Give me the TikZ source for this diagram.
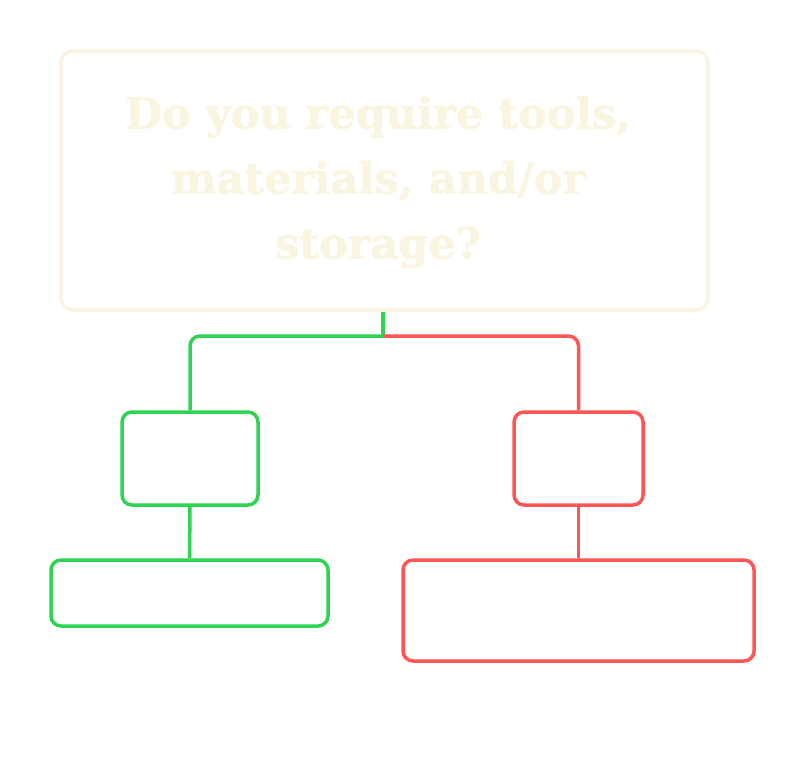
\documentclass[tikz,border=0pt]{standalone}
\usepackage{fontspec}
\newfontfamily\qfont[BoldFeatures={FakeBold=1.2}]{DejaVu Serif}
\usetikzlibrary{positioning}
\definecolor{cream}{HTML}{F9F5E0}
\definecolor{yesgreen}{HTML}{2ED352}
\definecolor{nored}{HTML}{FF5555}
\tikzset{
  qbox/.style={draw=cream, line width=3.5pt, rounded corners=12pt, align=center, inner sep=0pt},
  yesbox/.style={draw=yesgreen, line width=3.5pt, rounded corners=10pt, inner sep=0pt},
  nobox/.style={draw=nored, line width=3.5pt, rounded corners=10pt, inner sep=0pt},
  yesline/.style={draw=yesgreen, line width=3.5pt, rounded corners=10pt},
  noline/.style={draw=nored, line width=3.5pt, rounded corners=10pt}
}
\begin{document}
\begin{tikzpicture}[x=1pt, y=-1pt]
\useasboundingbox (0,0) rectangle (804,782);
% Question
\node[qbox, minimum width=647pt, minimum height=259pt] (question) at (384.5,180.5) {};
\node[text=cream, font=\qfont\bfseries\fontsize{43}{65}\selectfont, align=center] (qtext) at (378,182) {Do you require tools,\\materials, and/or\\storage?};
% Yes branch
\node[yesbox, minimum width=136pt, minimum height=93pt] (yesmid) at (190,458.5) {};
\node[yesbox, minimum width=277pt, minimum height=66pt] (yesend) at (189.5,593) {};
% No branch
\node[nobox, minimum width=129pt, minimum height=93pt] (nomid) at (578.5,458.5) {};
\node[nobox, minimum width=351pt, minimum height=101pt] (noend) at (578.5,610.5) {};
% Connectors
\coordinate (split) at (383,336);
\draw[yesline] (split |- question.south) -- (split);
\draw[yesline] (split) -| (yesmid.north);
\draw[noline] (split) -| (nomid.north);
\draw[yesline] (yesmid.south) -- (yesend.north);
\draw[noline] (nomid.south) -- (noend.north);
\end{tikzpicture}
\end{document}
